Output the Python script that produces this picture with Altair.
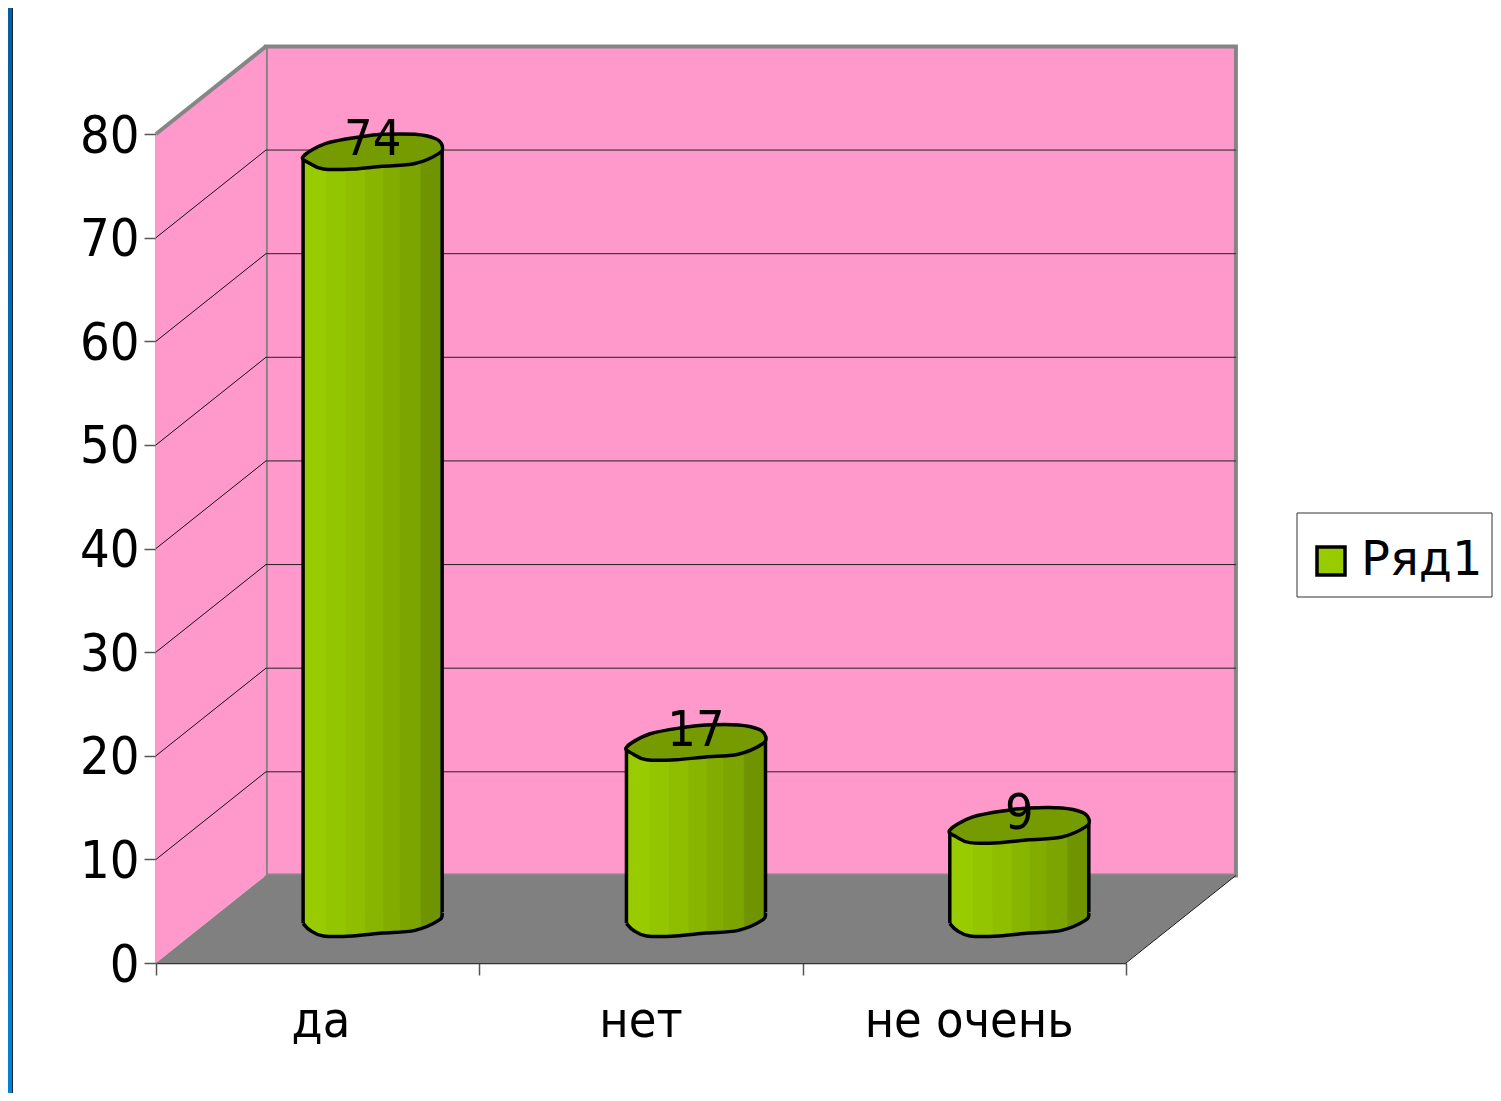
import altair as alt
import pandas as pd

categories = ["да", "нет", "не очень"]
values = [74, 17, 9]
label_slots = [0.51, 1.5, 2.515]
series_name = "Ряд1"
grid_values = [10, 20, 30, 40, 50, 60, 70]
y_ticks = [0, 10, 20, 30, 40, 50, 60, 70, 80]

FONT = "DejaVu Sans Condensed, DejaVu Sans"
DX, DY = 0.34, 8.45      # depth of the 3D box in axis units
W, H = 970, 829
PL, PT = 148, 126
PR, PB = 1485 - PL - W, 1085 - PT - H
YMAX = 80
HALF = 0.215
EDGE = [(0.0, "#99cc00"), (0.16, "#99cc00"), (0.17, "#94c600"), (0.3, "#94c600"), (0.31, "#8fbe00"),
        (0.44, "#8fbe00"), (0.45, "#88b500"), (0.57, "#88b500"), (0.58, "#82ad00"), (0.69, "#82ad00"),
        (0.7, "#7ca500"), (0.84, "#7ca500"), (0.85, "#6f9400"), (1.0, "#6f9400")]
bar_fill = alt.LinearGradient(gradient="linear", x1=0, x2=1, y1=0, y2=0,
                              stops=[alt.GradientStop(offset=o, color=c) for o, c in EDGE])
band_fill = alt.LinearGradient(gradient="linear", x1=0, x2=0, y1=0, y2=1,
                               stops=[alt.GradientStop(offset=0, color="#0060a8"),
                                      alt.GradientStop(offset=1, color="#0082da")])

CAP_POINTS = [(-1, 0.06), (-0.67, -0.13), (-0.14, -0.23), (0.14, -0.26), (0.61, -0.26), (0.9, -0.2), (1, -0.1),
              (0.96, 0.01), (0.61, 0.16), (0.14, 0.2), (-0.29, 0.24), (-0.71, 0.24), (-0.9, 0.16)]


def smooth(points, closed):
    """Catmull-Rom outline through the given unit-square points, as an SVG path."""
    n = len(points)
    d = f"M{points[0][0]},{points[0][1]}"
    for i in range(n if closed else n - 1):
        if closed:
            p0, p1, p2, p3 = points[(i - 1) % n], points[i], points[(i + 1) % n], points[(i + 2) % n]
        else:
            p0, p1, p2, p3 = points[max(i - 1, 0)], points[i], points[i + 1], points[min(i + 2, n - 1)]
        c1 = (p1[0] + (p2[0] - p0[0]) / 6, p1[1] + (p2[1] - p0[1]) / 6)
        c2 = (p2[0] - (p3[0] - p1[0]) / 6, p2[1] - (p3[1] - p1[1]) / 6)
        d += f" C{c1[0]:.3f},{c1[1]:.3f} {c2[0]:.3f},{c2[1]:.3f} {p2[0]},{p2[1]}"
    return d + (" Z" if closed else "")


CAP = smooth(CAP_POINTS, True)
# the lower half only: open, so its stroke does not close across the body
BOTTOM = smooth(CAP_POINTS[6:] + CAP_POINTS[:1], False)
# the same lower half, squared off upward, to fill the foot of the cylinder
BOTTOM_FILL = BOTTOM + " L-1,-0.3 L1,-0.3 Z"

XS = alt.Scale(domain=[0, 3], nice=False, zero=False)
YS = alt.Scale(domain=[0, YMAX], nice=False)
X = alt.X("x:Q", scale=XS, title=None,
          axis=alt.Axis(values=[0, 1, 2, 3], labels=False, tickSize=12, tickColor="#555", tickWidth=1.5,
                        domainColor="#333", domainWidth=1.5, grid=False))
Y = alt.Y("y:Q", scale=YS, title=None,
          axis=alt.Axis(values=y_ticks, tickSize=12, tickColor="#555", tickWidth=1.5, domainColor="#707070",
                        domainWidth=2, grid=False, labelFont=FONT, labelFontSize=52, labelColor="black",
                        labelPadding=5, labelOffset=2))
X2 = alt.X2("x2:Q")
Y2 = alt.Y2("y2:Q")

# walls and floor
back = pd.DataFrame({"x": [DX], "x2": [3 + DX], "y": [DY], "y2": [YMAX + DY]})
left = pd.DataFrame({"x": [0, DX], "y": [0, DY], "y2": [YMAX, YMAX + DY]})
floor = pd.DataFrame({"x": [0, DX], "x2": [3, 3 + DX], "y": [0, DY]})
edge_top = pd.DataFrame({"x": [0, DX], "y": [YMAX, YMAX + DY]})
edge_right = pd.DataFrame({"x": [3, 3 + DX], "y": [0, DY]})

back_wall = alt.Chart(back).mark_rect(fill="#ff99cc", stroke="#868686", strokeWidth=4).encode(x=X, x2=X2, y=Y, y2=Y2)
left_wall = alt.Chart(left).mark_area(fill="#ff99cc", opacity=1).encode(x=X, y=Y, y2=Y2)
floor_poly = alt.Chart(floor).mark_area(orient="horizontal", fill="#808080", opacity=1).encode(x=X, x2=X2, y=Y)
top_edge = alt.Chart(edge_top).mark_line(color="#868686", strokeWidth=4).encode(x=X, y=Y)
right_edge = alt.Chart(edge_right).mark_line(color="#222", strokeWidth=1).encode(x=X, y=Y)

grid_back = alt.Chart(pd.DataFrame({"x": [DX] * len(grid_values), "x2": [3 + DX] * len(grid_values),
                                    "y": [v + DY for v in grid_values]})
                      ).mark_rule(color="#222", strokeWidth=1).encode(x=X, x2=X2, y=Y)
diag_rows = [{"x": 0, "y": v, "g": v} for v in grid_values] + [{"x": DX, "y": v + DY, "g": v} for v in grid_values]
grid_side = alt.Chart(pd.DataFrame(diag_rows)).mark_line(color="#111", strokeWidth=1).encode(
    x=X, y=Y, detail="g:N")

# cylinders
slots = [i + 0.5 + DX / 2 for i in range(len(values))]
base = DY / 2
bars = pd.DataFrame({
    "x": slots,
    "y": [base + v for v in values],
    "label": [str(v) for v in values],
    "lx": [s - HALF for s in slots],
    "rx": [s + HALF for s in slots],
    "base": [base] * len(values),
    "body_low": [base + 0.7] * len(values),
    "ly": [base + v + 1.15 for v in values],
    "ltop": [base + v - 0.4 for v in values],
    "lbase": [base - 0.4] * len(values),
    "rtop": [base + v + 0.7 for v in values],
    "rbase": [base + 0.7] * len(values),
})
STROKE = 3.5
base_fill = alt.Chart(bars).mark_point(shape=BOTTOM_FILL, size=19321, filled=True, fill=bar_fill, strokeWidth=0,
                                       opacity=1).encode(x=X, y=alt.Y("base:Q", scale=YS))
base_line = alt.Chart(bars).mark_point(shape=BOTTOM, size=19321, filled=False, stroke="black",
                                       strokeWidth=STROKE, opacity=1).encode(x=X, y=alt.Y("base:Q", scale=YS))
body = alt.Chart(bars).mark_rect(fill=bar_fill).encode(
    x=alt.X("lx:Q", scale=XS), x2=alt.X2("rx:Q"),
    y=alt.Y("y:Q", scale=YS), y2=alt.Y2("body_low:Q"))
left_side = alt.Chart(bars).mark_rule(color="black", strokeWidth=STROKE).encode(
    x=alt.X("lx:Q", scale=XS), y=alt.Y("ltop:Q", scale=YS), y2=alt.Y2("lbase:Q"))
right_side = alt.Chart(bars).mark_rule(color="black", strokeWidth=STROKE).encode(
    x=alt.X("rx:Q", scale=XS), y=alt.Y("rtop:Q", scale=YS), y2=alt.Y2("rbase:Q"))
top_cap = alt.Chart(bars).mark_point(shape=CAP, size=19321, filled=True, fill="#769b00", stroke="black",
                                     strokeWidth=STROKE, opacity=1).encode(x=X, y=Y)
value_text = alt.Chart(bars).mark_text(font=FONT, fontSize=50, color="black", baseline="middle").encode(
    x=X, y=alt.Y("ly:Q", scale=YS), text="label:N")

# category labels
cat_text = alt.Chart(pd.DataFrame({"x": label_slots, "t": categories})).mark_text(
    font=FONT, fontSize=50, color="black", baseline="middle").encode(
    x=X, y=alt.value(888), text="t:N")

# legend frame and legend
legend_box = alt.Chart(pd.DataFrame({"k": [0]})).mark_rect(fill="white", stroke="#333", strokeWidth=1).encode(
    x=alt.value(1141), x2=alt.value(1336), y=alt.value(379), y2=alt.value(463))
legend = alt.Chart(pd.DataFrame({"x": [0], "y": [0], "s": [series_name]})).mark_square(size=0).encode(
    x=X, y=Y,
    color=alt.Color("s:N", scale=alt.Scale(domain=[series_name], range=["#99cc00"]),
                    legend=alt.Legend(title=None, orient="none", legendX=1151, legendY=403,
                                      padding=0,
                                      symbolType="square", symbolSize=784, symbolStrokeColor="black",
                                      symbolStrokeWidth=3.5, symbolFillColor="#99cc00", symbolOpacity=1,
                                      labelFont="DejaVu Sans", labelFontSize=48, labelColor="black",
                                      labelOffset=6, labelLimit=300)))

# blue slide edge
band = alt.Chart(pd.DataFrame({"k": [0]})).mark_rect(fill=band_fill).encode(
    x=alt.value(-PL), x2=alt.value(-PL + 4), y=alt.value(-PT), y2=alt.value(H + PB))
band_line = alt.Chart(pd.DataFrame({"k": [0]})).mark_rule(color="#222", strokeWidth=1).encode(
    x=alt.value(-PL + 4.5), y=alt.value(-PT), y2=alt.value(H + PB))

chart = alt.layer(
    back_wall, left_wall, floor_poly, top_edge, right_edge, grid_back, grid_side,
    base_fill, base_line, body, left_side, right_side, top_cap, value_text, cat_text,
    legend_box, legend, band, band_line
).properties(
    width=W, height=H,
    padding={"left": PL, "top": PT, "right": PR, "bottom": PB},
    autosize=alt.AutoSizeParams(type="none"),
    background="white",
).configure_view(stroke=None)

chart.save("out.html", embed_options={"renderer": "svg", "actions": False})
